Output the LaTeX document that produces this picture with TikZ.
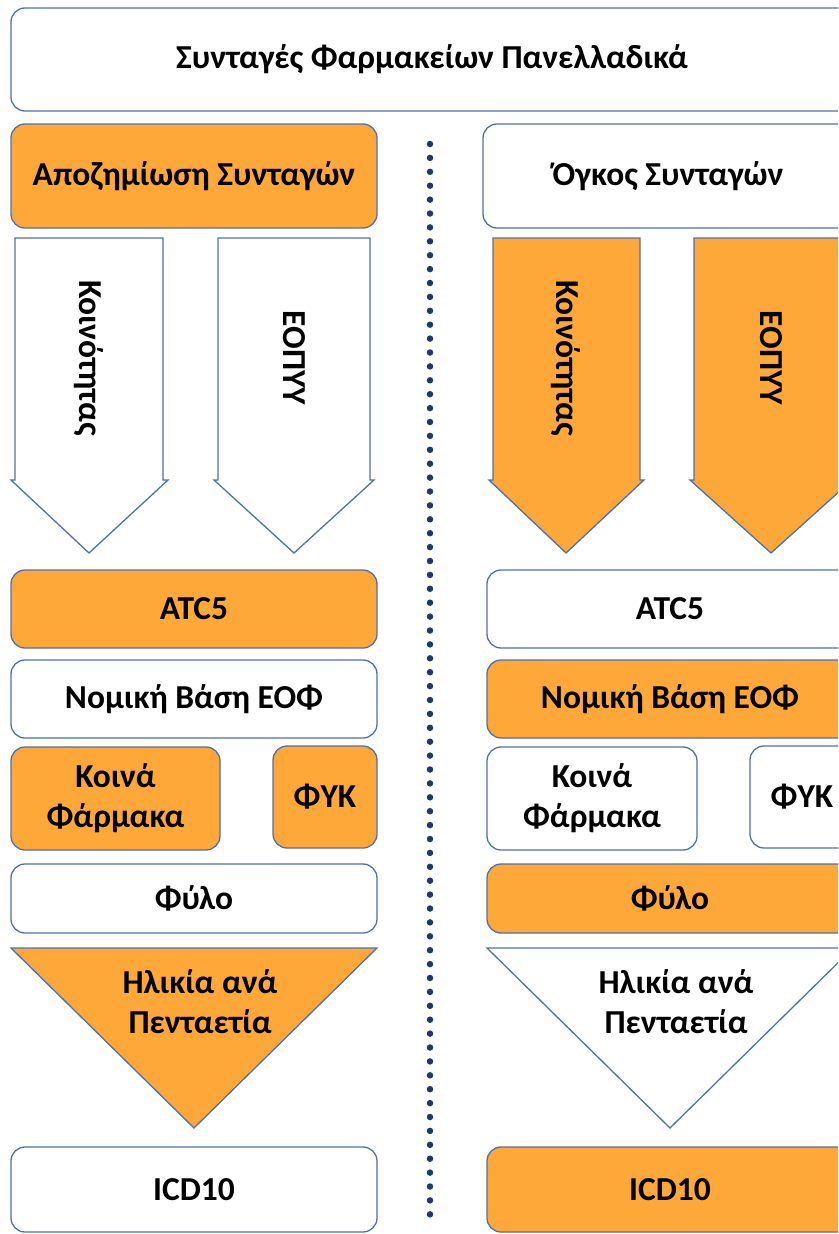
\documentclass[tikz,border=0pt]{standalone}
\usepackage{fontspec}
\setmainfont{Carlito}
\definecolor{org}{HTML}{FDA838}
\definecolor{edge}{HTML}{4E70AE}
\definecolor{dotc}{HTML}{1F3864}
\begin{document}
\begin{tikzpicture}[x=1pt,y=-1pt,
  lbl/.style={font=\bfseries\fontsize{33.5}{40}\selectfont, align=center, inner sep=0pt},
  box/.style={lbl, draw=edge, line width=1.3pt, rounded corners=14pt},
  shp/.style={draw=edge, line width=1.3pt, line join=miter},
  on/.style={fill=org},
  off/.style={fill=white}]
\useasboundingbox (0,0) rectangle (838,1234);
\clip (0,0) rectangle (838,1234);

% title
\node[box, off, minimum width=842pt, minimum height=103pt] (title) at (432,59.5) {Συνταγές Φαρμακείων Πανελλαδικά};

% dotted separator
\coordinate (dtop) at (430,144);
\coordinate (dbot) at (430,1228);
\draw[dotc, line width=6.5pt, line cap=round, dash pattern=on 0pt off 13.9pt] (dtop) -- (dbot);

% row 1
\node[box, on, minimum width=366pt, minimum height=104pt] (apoz) at (194,176) {Αποζημίωση Συνταγών};
\node[box, off, minimum width=370pt, minimum height=104pt] (ogkos) at (668,176) {Όγκος Συνταγών};

% arrows
\draw[shp, off] (15,238) -- (163,238) -- (163,480) -- (168,480) -- (89,553) -- (11,480) -- (15,480) -- cycle;
\node[lbl, rotate=-90] (koinL) at (89,358) {Κοινότητας};
\draw[shp, off] (218,238) -- (370,238) -- (370,480) -- (374,480) -- (294,553) -- (214,480) -- (218,480) -- cycle;
\node[lbl, rotate=-90] (eopL) at (294,358) {ΕΟΠΥΥ};
\draw[shp, on] (493,238) -- (640,238) -- (640,480) -- (644,480) -- (566,553) -- (489,480) -- (493,480) -- cycle;
\node[lbl, rotate=-90] (koinR) at (566,358) {Κοινότητας};
\draw[shp, on] (694,238) -- (848,238) -- (848,480) -- (852,480) -- (771,553) -- (690,480) -- (694,480) -- cycle;
\node[lbl, rotate=-90] (eopR) at (771,358) {ΕΟΠΥΥ};

% ATC5
\node[box, on, minimum width=366pt, minimum height=78pt] (atcL) at (194,609) {ATC5};
\node[box, off, minimum width=366pt, minimum height=78pt] (atcR) at (670,609) {ATC5};

% Nomiki
\node[box, off, minimum width=366pt, minimum height=78pt] (nomL) at (194,699) {Νομική Βάση ΕΟΦ};
\node[box, on, minimum width=366pt, minimum height=78pt] (nomR) at (670,699) {Νομική Βάση ΕΟΦ};

% Koina / FYK
\node[box, on, minimum width=209pt, minimum height=103pt] (kfL) at (115.5,798.5) {Κοινά\\Φάρμακα};
\node[box, on, minimum width=104pt, minimum height=102pt] (fykL) at (325,797) {ΦΥΚ};
\node[box, off, minimum width=210pt, minimum height=103pt] (kfR) at (592,798.5) {Κοινά\\Φάρμακα};
\node[box, off, minimum width=104pt, minimum height=102pt] (fykR) at (802,797) {ΦΥΚ};

% Fylo
\node[box, off, minimum width=366pt, minimum height=69pt] (fylL) at (194,898.5) {Φύλο};
\node[box, on, minimum width=366pt, minimum height=69pt] (fylR) at (670,898.5) {Φύλο};

% triangles
\draw[shp, on] (11,948) -- (377,948) -- (194,1128) -- cycle;
\node[lbl] (ageL) at (200,1002) {Ηλικία ανά\\Πενταετία};
\draw[shp, off] (487,948) -- (853,948) -- (670,1128) -- cycle;
\node[lbl] (ageR) at (676,1002) {Ηλικία ανά\\Πενταετία};

% ICD10
\node[box, off, minimum width=366pt, minimum height=85pt] (icdL) at (194,1189.5) {ICD10};
\node[box, on, minimum width=366pt, minimum height=85pt] (icdR) at (670,1189.5) {ICD10};
\end{tikzpicture}
\end{document}
